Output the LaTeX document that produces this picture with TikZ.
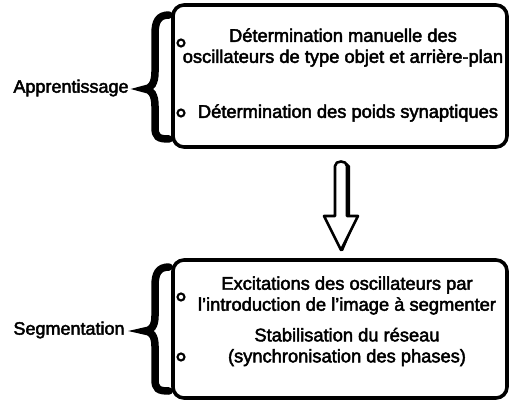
\documentclass[tikz,border=0pt]{standalone}
\usepackage{fontspec}
\setmainfont{Liberation Sans}[FakeBold=2.5]
\begin{document}
\begin{tikzpicture}[x=1pt,y=-1pt,
  box/.style={draw,line width=3.6pt,rounded corners=11pt,minimum width=334pt,inner sep=0pt},
  txt/.style={align=center,font=\fontsize{18.3}{21}\selectfont,inner sep=0pt},
  lbl/.style={font=\fontsize{18}{21}\selectfont,inner sep=0pt},
  bul/.style={draw,circle,line width=2.1pt,minimum size=7pt,inner sep=0pt},
  brc/.style={line width=7.5pt,line cap=round}]
\useasboundingbox (0,0) rectangle (509,404);
% boxes
\node[box,minimum height=142pt] (b1) at (340,76) {};
\node[box,minimum height=138pt] (b2) at (340,329) {};
% top texts
\node[txt] (t1) at (343,47.5) {Détermination manuelle des\\oscillateurs de type objet et arrière-plan};
\node[txt] (t2) at (348,113) {Détermination des poids synaptiques};
\node[bul] (c1) at (181,43) {};
\node[bul] (c2) at (181,113) {};
% bottom texts
\node[txt] (t3) at (347,295.5) {Excitations des oscillateurs par\\l'introduction de l'image à segmenter};
\node[txt] (t4) at (347,347) {Stabilisation du réseau\\(synchronisation des phases)};
\node[bul] (c3) at (181,297) {};
\node[bul] (c4) at (181,357) {};
% labels
\node[lbl] (l1) at (71,88) {Apprentissage};
\node[lbl] (l2) at (69,330) {Segmentation};
% braces
\draw[brc] (169,15) .. controls (158,15) and (155,22) .. (155,34) -- (155,72)
  .. controls (155,83) and (151,89) .. (145,89)
  .. controls (151,89) and (155,95) .. (155,106) -- (155,127)
  .. controls (155,137) and (158,139) .. (169,139);
\draw[brc] (169,267) .. controls (158,267) and (155,274) .. (155,286) -- (155,316)
  .. controls (155,326) and (151,331) .. (145,331)
  .. controls (151,331) and (155,336) .. (155,346) -- (155,379)
  .. controls (155,389) and (158,391) .. (169,391);
% arrow
\fill[line join=round] (338,218) -- (350,216) -- (350,166) -- (347,163) -- (347,216) -- (358,216) -- (343,251) -- (340,250) -- cycle;
\draw[line width=2.6pt,fill=white,line join=round] (335,216) -- (335,166)
  .. controls (335,160) and (347,160) .. (347,166) -- (347,216) -- (358,216)
  -- (341,250) -- (324,216) -- cycle;
\end{tikzpicture}
\end{document}
